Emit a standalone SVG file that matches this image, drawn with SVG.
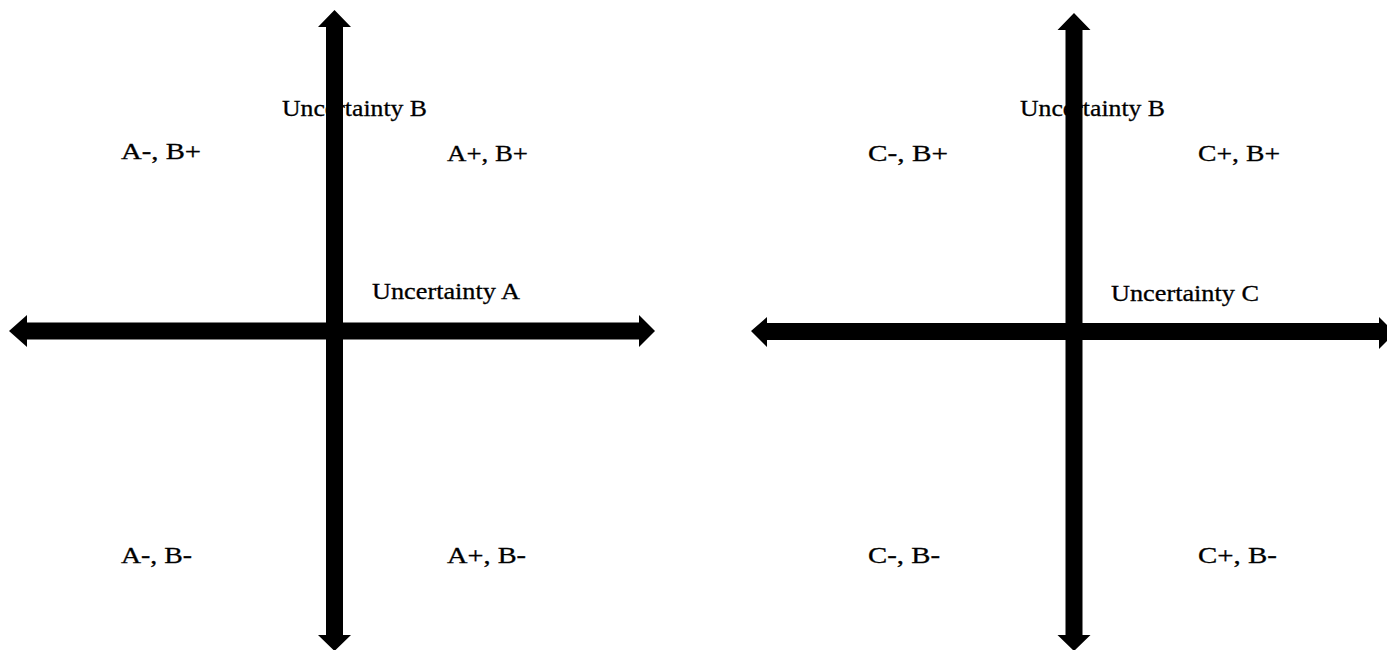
<svg xmlns="http://www.w3.org/2000/svg" width="1387" height="650" viewBox="0 0 1387 650">
<style>
text{font-family:"Liberation Serif","Times New Roman",serif;font-size:24px;fill:#000;stroke:#000;stroke-width:0.3}
.ax{fill:#000;stroke:none}
</style>
<rect width="1387" height="650" fill="#fff"/>
<g id="left-diagram-labels">
<g id="lbl-unc-b-1"><text x="282" y="116" textLength="145" lengthAdjust="spacingAndGlyphs">Uncertainty B</text></g>
<g id="lbl-am-bp"><text x="121" y="159" textLength="80" lengthAdjust="spacingAndGlyphs">A-, B+</text></g>
<g id="lbl-ap-bp"><text x="447" y="161" textLength="81" lengthAdjust="spacingAndGlyphs">A+, B+</text></g>
<g id="lbl-unc-a"><text x="372" y="299" textLength="148" lengthAdjust="spacingAndGlyphs">Uncertainty A</text></g>
<g id="lbl-am-bm"><text x="121" y="563" textLength="71" lengthAdjust="spacingAndGlyphs">A-, B-</text></g>
<g id="lbl-ap-bm"><text x="447" y="563" textLength="79" lengthAdjust="spacingAndGlyphs">A+, B-</text></g>
</g>
<g id="right-diagram-labels">
<g id="lbl-unc-b-2"><text x="1020" y="116" textLength="145" lengthAdjust="spacingAndGlyphs">Uncertainty B</text></g>
<g id="lbl-cm-bp"><text x="868" y="161" textLength="80" lengthAdjust="spacingAndGlyphs">C-, B+</text></g>
<g id="lbl-cp-bp"><text x="1198" y="161" textLength="82" lengthAdjust="spacingAndGlyphs">C+, B+</text></g>
<g id="lbl-unc-c"><text x="1111" y="301" textLength="148" lengthAdjust="spacingAndGlyphs">Uncertainty C</text></g>
<g id="lbl-cm-bm"><text x="868" y="563" textLength="72" lengthAdjust="spacingAndGlyphs">C-, B-</text></g>
<g id="lbl-cp-bm"><text x="1198" y="563" textLength="79" lengthAdjust="spacingAndGlyphs">C+, B-</text></g>
</g>
<g id="connectors">
<polygon class="ax" points="334.5,10 351,27 343,27 343,635 351,635 334.5,651 318,635 326,635 326,27 318,27"/>
<polygon class="ax" points="9,331 27,315 27,322.5 639,322.5 639,315 655,331 639,347 639,339.5 27,339.5 27,347"/>
<polygon class="ax" points="1074,13 1090.5,30 1082.5,30 1082.5,635 1090.5,635 1074,651 1057.5,635 1065.5,635 1065.5,30 1057.5,30"/>
<polygon class="ax" points="751,331 767,317 767,323 1379,323 1379,317 1395,333 1379,349 1379,340 767,340 767,347"/>
</g>
</svg>
